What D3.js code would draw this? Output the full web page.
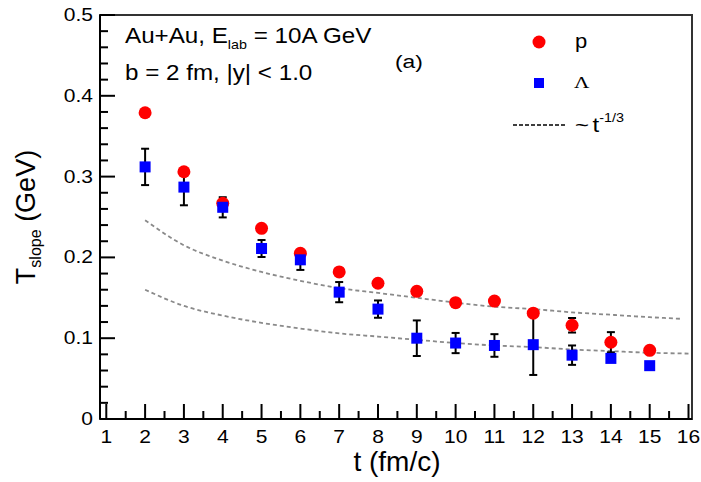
<!DOCTYPE html>
<html>
<head>
<meta charset="utf-8">
<script src="https://cdn.jsdelivr.net/npm/d3@7"></script>
<style>
  body { margin: 0; background: #fff; }
  svg text { font-family: "Liberation Sans", Arial, sans-serif; fill: #000; }
</style>
</head>
<body>
<svg id="chart" width="701" height="482"></svg>
<script>
const svg = d3.select("#chart");

// data
const times = [2, 3, 4, 5, 6, 7, 8, 9, 10, 11, 12, 13, 14, 15];
const protonT = [0.379, 0.306, 0.267, 0.236, 0.205, 0.182, 0.168, 0.158, 0.144, 0.146, 0.131, 0.116, 0.095, 0.085];
const protonErr = [0, 0.004, 0, 0, 0.004, 0, 0, 0, 0, 0, 0, 0.009, 0.0125, 0];
const lambdaT = [0.312, 0.287, 0.262, 0.211, 0.197, 0.157, 0.136, 0.100, 0.094, 0.091, 0.092, 0.079, 0.075, 0.066];
const lambdaErr = [0.0225, 0.0225, 0.0125, 0.0105, 0.0125, 0.0125, 0.0107, 0.022, 0.0125, 0.014, 0.0375, 0.012, 0, 0];

// ~t^-1/3 guide curves
const upperT = [2, 3, 4, 5, 6, 7, 8, 9, 10, 11, 12, 13, 14, 15, 15.8];
const upperV = [0.246, 0.215, 0.196, 0.182, 0.171, 0.162, 0.156, 0.150, 0.144, 0.139, 0.136, 0.132, 0.129, 0.126, 0.124];
const lowerT = [2, 3, 4, 5, 6, 7, 8, 9, 10, 11, 12, 13, 14, 15, 16];
const lowerV = [0.160, 0.140, 0.128, 0.119, 0.112, 0.106, 0.102, 0.098, 0.094, 0.091, 0.089, 0.086, 0.084, 0.082, 0.081];

const xMajor = d3.range(1, 17);
const xMinor = d3.range(1.5, 16, 1);
const yMajor = [0, 0.1, 0.2, 0.3, 0.4, 0.5];
const yMinor = d3.range(0.02, 0.5, 0.02).filter(v => Math.abs(v * 10 - Math.round(v * 10)) > 1e-6);

const plotL = 100, plotR = 692, plotT = 15, plotB = 419;

const x = d3.scaleLinear().domain([0.838, 16.09]).range([plotL, plotR]);
const y = d3.scaleLinear().domain([0, 0.5]).range([plotB, plotT]);

// text in the original is a bit wider than Liberation Sans
function label(px, py, size, sx) {
  return svg.append("text")
    .attr("transform", `translate(${px},${py}) scale(${sx},1)`)
    .attr("font-size", size);
}

// guide curves
const line = d3.line().x(d => x(d[0])).y(d => y(d[1])).curve(d3.curveMonotoneX);
[[upperT, upperV], [lowerT, lowerV]].forEach(([ts, vs]) => {
  svg.append("path")
    .attr("d", line(ts.map((t, i) => [t, vs[i]])))
    .attr("fill", "none")
    .attr("stroke", "#8a8a8a")
    .attr("stroke-width", 1.8)
    .attr("stroke-dasharray", "4,3");
});

// error bars
function errorBars(vals, errs, cls) {
  const g = svg.append("g").attr("class", cls)
    .attr("stroke", "#000").attr("stroke-width", 2);
  times.forEach((t, i) => {
    if (!errs[i]) return;
    const cx = x(t), y1 = y(vals[i] + errs[i]), y2 = y(vals[i] - errs[i]);
    g.append("line").attr("x1", cx).attr("x2", cx).attr("y1", y1).attr("y2", y2);
    g.append("line").attr("x1", cx - 4).attr("x2", cx + 4).attr("y1", y1).attr("y2", y1);
    g.append("line").attr("x1", cx - 4).attr("x2", cx + 4).attr("y1", y2).attr("y2", y2);
  });
}
errorBars(protonT, protonErr, "p-err");
errorBars(lambdaT, lambdaErr, "l-err");

// markers
svg.selectAll(".p-dot")
  .data(times)
  .enter()
  .append("circle")
  .attr("class", "p-dot")
  .attr("cx", d => x(d))
  .attr("cy", (d, i) => y(protonT[i]))
  .attr("r", 6.5)
  .attr("fill", "#ff0000");

svg.selectAll(".l-sq")
  .data(times)
  .enter()
  .append("rect")
  .attr("class", "l-sq")
  .attr("x", d => x(d) - 5.5)
  .attr("y", (d, i) => y(lambdaT[i]) - 5.5)
  .attr("width", 11)
  .attr("height", 11)
  .attr("fill", "#0000ff");

// frame
svg.append("rect")
  .attr("x", plotL).attr("y", plotT)
  .attr("width", plotR - plotL).attr("height", plotB - plotT)
  .attr("fill", "none").attr("stroke", "#333").attr("stroke-width", 2);

// y axis ticks
const yt = svg.append("g").attr("stroke", "#000").attr("stroke-width", 2);
yMajor.forEach(v => yt.append("line").attr("x1", plotL).attr("x2", plotL + 15).attr("y1", y(v)).attr("y2", y(v)));
yMinor.forEach(v => yt.append("line").attr("x1", plotL).attr("x2", plotL + 8).attr("y1", y(v)).attr("y2", y(v)));
svg.append("line").attr("x1", plotL).attr("x2", plotL).attr("y1", plotT).attr("y2", plotB)
  .attr("stroke", "#000").attr("stroke-width", 2);

// x axis ticks
const xt = svg.append("g").attr("stroke", "#000").attr("stroke-width", 2);
xMajor.forEach(v => xt.append("line").attr("x1", x(v)).attr("x2", x(v)).attr("y1", plotB).attr("y2", plotB - 15));
xMinor.forEach(v => xt.append("line").attr("x1", x(v)).attr("x2", x(v)).attr("y1", plotB).attr("y2", plotB - 8));
svg.append("line").attr("x1", plotL).attr("x2", plotR).attr("y1", plotB).attr("y2", plotB)
  .attr("stroke", "#000").attr("stroke-width", 2);

// tick labels
yMajor.forEach(v => {
  label(93, y(v) + 6, 17.5, 1.2)
    .attr("text-anchor", "end")
    .text(v === 0 ? "0" : d3.format(".1f")(v));
});
xMajor.forEach(v => {
  label(x(v), 443, 17.5, 1.2)
    .attr("text-anchor", "middle")
    .text(v);
});

// axis titles
svg.append("text")
  .attr("x", 397).attr("y", 471)
  .attr("text-anchor", "middle")
  .attr("font-size", 28)
  .text("t (fm/c)");

const yTitle = svg.append("text")
  .attr("transform", "translate(35,217) rotate(-90)")
  .attr("text-anchor", "middle")
  .attr("font-size", 27);
yTitle.append("tspan").text("T");
yTitle.append("tspan").attr("font-size", 16).attr("dy", 6).text("slope");
yTitle.append("tspan").attr("dy", -6).text(" (GeV)");

// annotations
const t1 = label(125, 43, 22, 1.1);
t1.append("tspan").text("Au+Au, E");
t1.append("tspan").attr("font-size", 13).attr("dy", 6).text("lab");
t1.append("tspan").attr("dy", -6).text(" = 10A GeV");

label(125, 80, 22, 1.1).text("b = 2 fm, |y| < 1.0");

label(395, 68, 19, 1.2).text("(a)");

// legend
svg.append("circle").attr("cx", 539).attr("cy", 42).attr("r", 6.5).attr("fill", "#ff0000");
label(575, 48, 20, 1.1).text("p");
svg.append("rect").attr("x", 534).attr("y", 78).attr("width", 10).attr("height", 10).attr("fill", "#0000ff");
label(574, 88, 17, 1.25)
  .style("font-family", "'Liberation Serif', 'Times New Roman', serif")
  .text("Λ");
svg.append("line").attr("x1", 513).attr("x2", 566).attr("y1", 125).attr("y2", 125)
  .attr("stroke", "#000").attr("stroke-width", 1.5).attr("stroke-dasharray", "4,2");
const t3 = label(575, 132, 20, 1.2);
t3.append("tspan").text("~");
t3.append("tspan").attr("dx", 3).text("t");
t3.append("tspan").attr("font-size", 12).attr("dy", -10).text("-1/3");
</script>
</body>
</html>
